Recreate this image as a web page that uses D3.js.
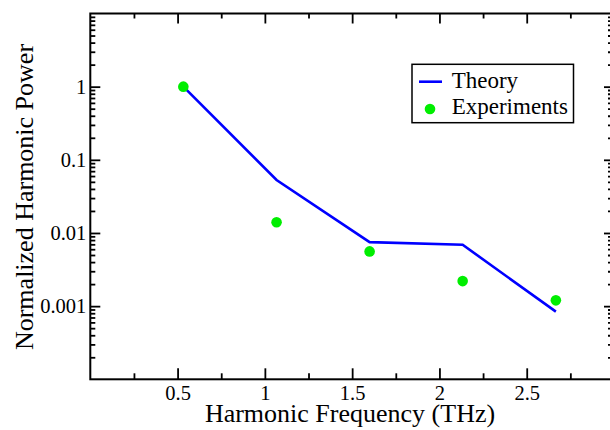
<!DOCTYPE html>
<html>
<head>
<meta charset="utf-8">
<script src="https://cdn.jsdelivr.net/npm/d3@7"></script>
<style>
  html, body { margin: 0; padding: 0; background: #fff; }
  svg { display: block; }
</style>
</head>
<body>
<svg id="chart" width="610" height="430"></svg>
<script>
// ---- data ----
const frequencies = [0.533, 1.067, 1.6, 2.133, 2.667];
const theoryPower = [1.0, 0.053, 0.0075, 0.0069, 0.00084];
const experimentPower = [1.0, 0.014, 0.0056, 0.0022, 0.0012];
const xMajorTicks = [0.5, 1, 1.5, 2, 2.5];
const xMinorTicks = [0.25, 0.75, 1.25, 1.75, 2.25, 2.75];
const yLabeledTicks = [0.001, 0.01, 0.1, 1];
const yDecades = [0.0001, 0.001, 0.01, 0.1, 1, 10];
const seriesNames = ["Theory", "Experiments"];

// ---- layout ----
const FONT = "'Liberation Serif', 'Times New Roman', Times, 'DejaVu Serif', serif";
const svg = d3.select("#chart");
const pL = 90.3, pR = 614, pT = 13.5, pB = 379.3;
const x = d3.scaleLinear().domain([0, 3]).range([pL, pR]);
const y = d3.scaleLog().domain([1e-4, 10]).range([pB, pT]);

const yMinor = [];
yDecades.slice(0, -1).forEach(d => { for (let k = 2; k <= 9; k++) yMinor.push(d * k); });

function styleAxis(g) {
  g.attr("font-family", null).attr("font-size", null);
  g.select(".domain").remove();
  g.selectAll(".tick line").attr("stroke", "#000").attr("stroke-width", 1.8);
  g.selectAll(".tick text")
    .style("font-family", FONT)
    .style("font-size", "20.5px")
    .attr("fill", "#000");
}

// bottom axis
svg.append("g").attr("transform", `translate(0,${pB})`)
  .call(d3.axisBottom(x).tickValues(xMajorTicks).tickSize(-11).tickPadding(6).tickFormat(d3.format("")))
  .call(styleAxis);
svg.append("g").attr("transform", `translate(0,${pB})`)
  .call(d3.axisBottom(x).tickValues(xMinorTicks).tickSize(-6).tickFormat(""))
  .call(styleAxis);
// top axis
svg.append("g").attr("transform", `translate(0,${pT})`)
  .call(d3.axisTop(x).tickValues(xMajorTicks).tickSize(-10).tickFormat(""))
  .call(styleAxis);
svg.append("g").attr("transform", `translate(0,${pT})`)
  .call(d3.axisTop(x).tickValues(xMinorTicks).tickSize(-5).tickFormat(""))
  .call(styleAxis);
// left axis
svg.append("g").attr("transform", `translate(${pL},0)`)
  .call(d3.axisLeft(y).tickValues(yLabeledTicks).tickSize(-10).tickPadding(4)
    .tickFormat(d => String(+d.toPrecision(1))))
  .call(styleAxis);
svg.append("g").attr("transform", `translate(${pL},0)`)
  .call(d3.axisLeft(y).tickValues(yMinor).tickSize(-5).tickFormat(""))
  .call(styleAxis);
// right axis
svg.append("g").attr("transform", `translate(${pR},0)`)
  .call(d3.axisRight(y).tickValues(yLabeledTicks).tickSize(-10).tickFormat(""))
  .call(styleAxis);
svg.append("g").attr("transform", `translate(${pR},0)`)
  .call(d3.axisRight(y).tickValues(yMinor).tickSize(-6).tickFormat(""))
  .call(styleAxis);

// frame
svg.append("rect")
  .attr("x", pL).attr("y", pT)
  .attr("width", pR - pL).attr("height", pB - pT)
  .attr("fill", "none").attr("stroke", "#000").attr("stroke-width", 2);

// theory line
const line = d3.line().x((d, i) => x(frequencies[i])).y(d => y(d));
svg.append("path")
  .datum(theoryPower)
  .attr("d", line)
  .attr("fill", "none")
  .attr("stroke", "#0000ff")
  .attr("stroke-width", 2.6);

// experiment points
svg.selectAll("circle.exp")
  .data(experimentPower)
  .join("circle")
  .attr("class", "exp")
  .attr("cx", (d, i) => x(frequencies[i]))
  .attr("cy", d => y(d))
  .attr("r", 5.3)
  .attr("fill", "#00ee00");

// axis titles
svg.append("text")
  .attr("x", 350).attr("y", 422)
  .attr("text-anchor", "middle")
  .style("font-family", FONT)
  .style("font-size", "26px")
  .text("Harmonic Frequency (THz)");
svg.append("text")
  .attr("transform", "translate(33,197) rotate(-90)")
  .attr("text-anchor", "middle")
  .style("font-family", FONT)
  .style("font-size", "26px")
  .text("Normalized Harmonic Power");

// legend
const lg = svg.append("g");
lg.append("rect")
  .attr("x", 412).attr("y", 64.3).attr("width", 161.5).attr("height", 58.4)
  .attr("fill", "#fff").attr("stroke", "#000").attr("stroke-width", 1.5);
lg.append("line")
  .attr("x1", 419).attr("x2", 442).attr("y1", 81.7).attr("y2", 81.7)
  .attr("stroke", "#0000ff").attr("stroke-width", 2.6);
lg.append("circle").attr("cx", 430).attr("cy", 109).attr("r", 5.3).attr("fill", "#00ee00");
lg.selectAll("text.leg")
  .data(seriesNames)
  .join("text")
  .attr("class", "leg")
  .attr("x", 451.7)
  .attr("y", (d, i) => i === 0 ? 87.5 : 114)
  .style("font-family", FONT)
  .style("font-size", "23px")
  .text(d => d);
</script>
</body>
</html>
